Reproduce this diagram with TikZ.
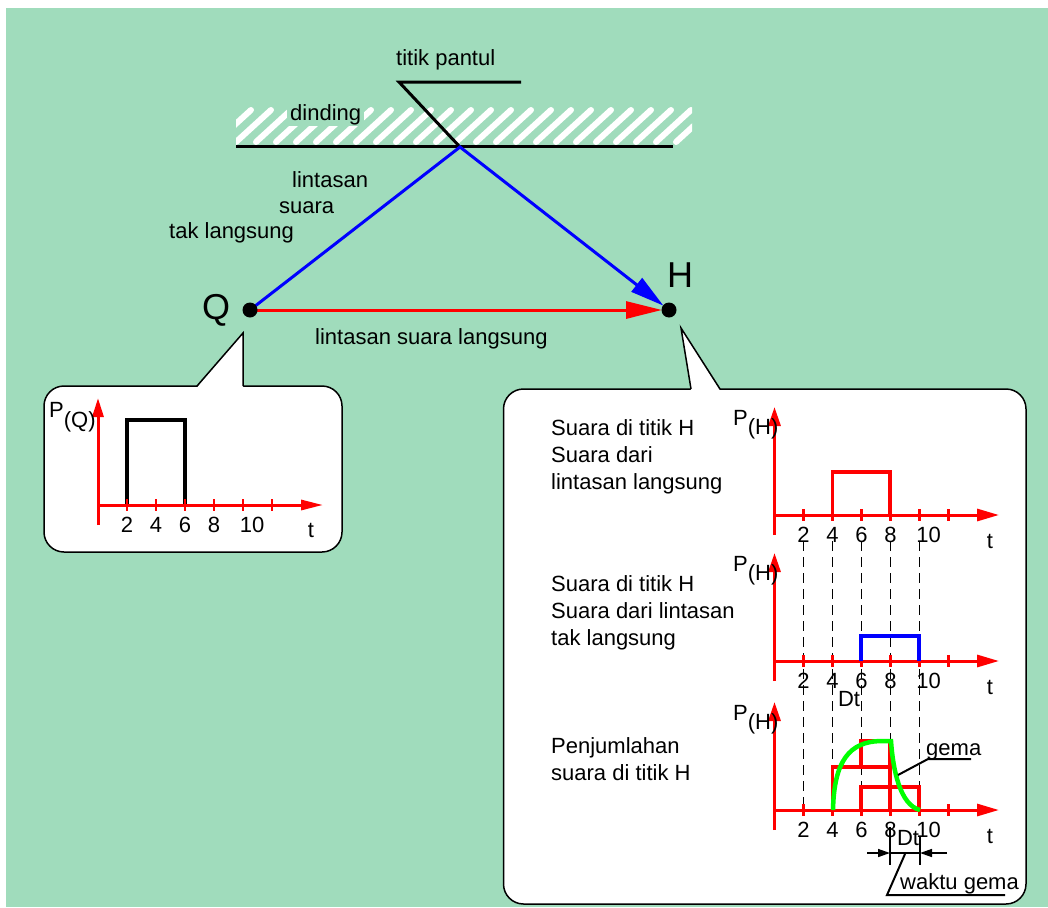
\documentclass[tikz,border=0pt]{standalone}
\usepackage{fontspec}
\setmainfont{Liberation Sans}
\usetikzlibrary{arrows.meta}
\definecolor{bg}{RGB}{160,220,188}
\definecolor{lime}{RGB}{0,255,0}
\newcommand\rplot[2]{%
  \foreach \t in {2,4,...,12} \draw[tickmark] ({774.5+14.5*\t},{#1-6}) -- ({774.5+14.5*\t},{#1+6});
  \draw[axisline] (774.5,#1) -- (999,#1);
  \draw[axisline, -{Triangle[length=19pt,width=12pt]}] (774.5,{#1+20}) -- (774.5,{#1-108});
  \foreach \t in {2,4,6,8} \node[num] (#2n\t) at ({774.5+14.5*\t},{#1+27}) {\t};
  \node[num] (#2n10) at ({774.5+14.5*10+9},{#1+27}) {10};
  \node[num] (#2t) at (990,{#1+33}) {t};
  \node[txt] (#2P) at (733,{#1-90}) {P\raisebox{-9pt}{(H)}};
}
\begin{document}
\begin{tikzpicture}[x=1pt,y=-1pt,
  txt/.style={font=\fontsize{22}{27}\selectfont, inner sep=0pt, anchor=base west},
  num/.style={font=\fontsize{22}{27}\selectfont, inner sep=0pt, anchor=base},
  big/.style={font=\fontsize{36}{40}\selectfont, inner sep=0pt, anchor=base},
  axisline/.style={red, line width=3pt, -{Triangle[length=22pt,width=12pt]}},
  tickmark/.style={red, line width=2.5pt},
  pulse/.style={line width=3.5pt, line join=miter},
  leader/.style={black, line width=2pt},
  callout/.style={draw=black, fill=white, line width=1.5pt},
  dot/.style={circle, fill=black, minimum size=15pt, inner sep=0pt},
  gridline/.style={black, line width=1pt, dash pattern=on 10pt off 6pt},
]
\useasboundingbox (0,0) rectangle (1048,907);
\fill[white] (0,0) rectangle (1048,907);
\fill[bg] (6,8) rectangle (1048,907);

% wall
\begin{scope}
  \clip (236,103) rectangle (692,144);
  \foreach \x in {216,236,...,716} \draw[white, line width=6pt, line cap=round] (\x,142) -- (\x+35,110);
\end{scope}
\draw[black, line width=3pt] (236,146) -- (673,146);
\node[txt, fill=bg, inner xsep=3pt, inner ysep=1pt] (dinding) at (287,120) {dinding};
\node[txt] (pantul) at (396,66) {titik pantul};
\coordinate (R) at (460,147);
\coordinate (p1) at (399,82);
\coordinate (p2) at (521,82);
\draw[leader, line width=3pt, line join=miter] (R) -- (p1) -- (p2);

% paths
\coordinate (Q) at (250,310);
\coordinate (H) at (669,310);
\draw[blue, line width=3pt, -{Triangle[length=34pt,width=17pt]}, shorten >=7pt] (Q) -- (R) -- (H);
\draw[red, line width=3pt, -{Triangle[length=36pt,width=17pt]}, shorten >=7pt] (Q) -- (H);
\node[dot] (Qd) at (Q) {};
\node[dot] (Hd) at (H) {};
\node[big] (Qlbl) at (216,319) {Q};
\node[big] (Hlbl) at (680,287) {H};
\node[txt] (l1) at (292,187) {lintasan};
\node[txt] (l2) at (279,213) {suara};
\node[txt] (l3) at (169,238) {tak langsung};
\node[txt] (l4) at (315,344) {lintasan suara langsung};

% left callout
\draw[callout, rounded corners=20pt] (44,386) rectangle (342,552);
\fill[white] (243,333) -- (197,387.5) -- (243,387.5) -- cycle;
\draw[line width=1.5pt, line join=miter] (197,386) -- (243,333) -- (243,386);
\draw[pulse, black] (127,505) -- (127,420) -- (185,420) -- (185,505);
\foreach \t in {2,4,...,12} \draw[tickmark] ({98+14.5*\t},499) -- ({98+14.5*\t},511);
\draw[axisline, -{Triangle[length=22pt,width=10pt]}] (98,505) -- (323,505);
\draw[axisline, -{Triangle[length=19pt,width=11pt]}] (98,525) -- (98,398);
\foreach \t in {2,4,6,8} \node[num] (qn\t) at ({98+14.5*\t},532) {\t};
\node[num] (qn10) at ({98+14.5*10+9},532) {10};
\node[num] (qt) at (311,537) {t};
\node[txt] (PQ) at (49,417) {P\raisebox{-10pt}{(Q)}};

% right callout
\draw[callout, rounded corners=20pt] (503.5,389) rectangle (1026,904);
\fill[white] (681,328) -- (691,390.5) -- (720,390.5) -- cycle;
\draw[line width=1.5pt, line join=miter] (691,389) -- (681,328) -- (720,389);

\foreach \t in {2,4,...,10} \draw[gridline] ({774.5+14.5*\t},541) -- ({774.5+14.5*\t},810);

% plot A
\rplot{515}{a}
\draw[pulse, red] (832.5,515) -- (832.5,472) -- (890,472) -- (890,515);
\node[txt] (a1) at (551,435) {Suara di titik H};
\node[txt] (a2) at (551,462) {Suara dari};
\node[txt] (a3) at (551,489) {lintasan langsung};

% plot B
\rplot{661}{b}
\draw[pulse, blue] (861,661) -- (861,636) -- (919,636) -- (919,661);
\node[txt] (b1) at (551,591) {Suara di titik H};
\node[txt] (b2) at (551,618) {Suara dari lintasan};
\node[txt] (b3) at (551,645) {tak langsung};
\node[num] (bdt) at (849,706) {Dt};

% plot C
\rplot{810}{c}
\draw[pulse, red] (832.5,810) -- (832.5,767) -- (890,767) -- (890,810);
\draw[pulse, red] (861,810) -- (861,787) -- (919,787) -- (919,810);
\draw[pulse, red] (861,767) -- (861,741) -- (890,741) -- (890,767);
\draw[lime, line width=4.5pt] (833,810) .. controls (834,760) and (850,742) .. (880,741) -- (891,741) .. controls (893,770) and (900,805) .. (920,810);
\node[txt] (c1) at (551,753) {Penjumlahan};
\node[txt] (c2) at (551,780) {suara di titik H};
\node[txt] (gema) at (926,755) {gema};
\coordinate (g0) at (898,775);
\coordinate (g1) at (928,759);
\coordinate (g2) at (971,759);
\draw[leader] (g0) -- (g1) -- (g2);
\node[num] (cdt) at (908,845) {Dt};
\coordinate (d1) at (890,853);
\coordinate (d2) at (920,853);
\coordinate (d0) at (867,853);
\coordinate (d3) at (947,853);
\draw[line width=1.5pt] (890,827) -- (890,865);
\draw[line width=1.5pt] (920,837) -- (920,865);
\draw[line width=1.5pt] (d1) -- (d2);
\draw[line width=1.5pt, -{Triangle[length=12pt,width=8pt]}] (d0) -- (d1);
\draw[line width=1.5pt, -{Triangle[length=12pt,width=8pt]}] (d3) -- (d2);
\node[txt] (waktu) at (900,889) {waktu gema};
\coordinate (w0) at (905,854);
\coordinate (w1) at (887,895);
\coordinate (w2) at (1005,895);
\draw[leader, line join=miter] (w0) -- (w1) -- (w2);
\end{tikzpicture}
\end{document}
